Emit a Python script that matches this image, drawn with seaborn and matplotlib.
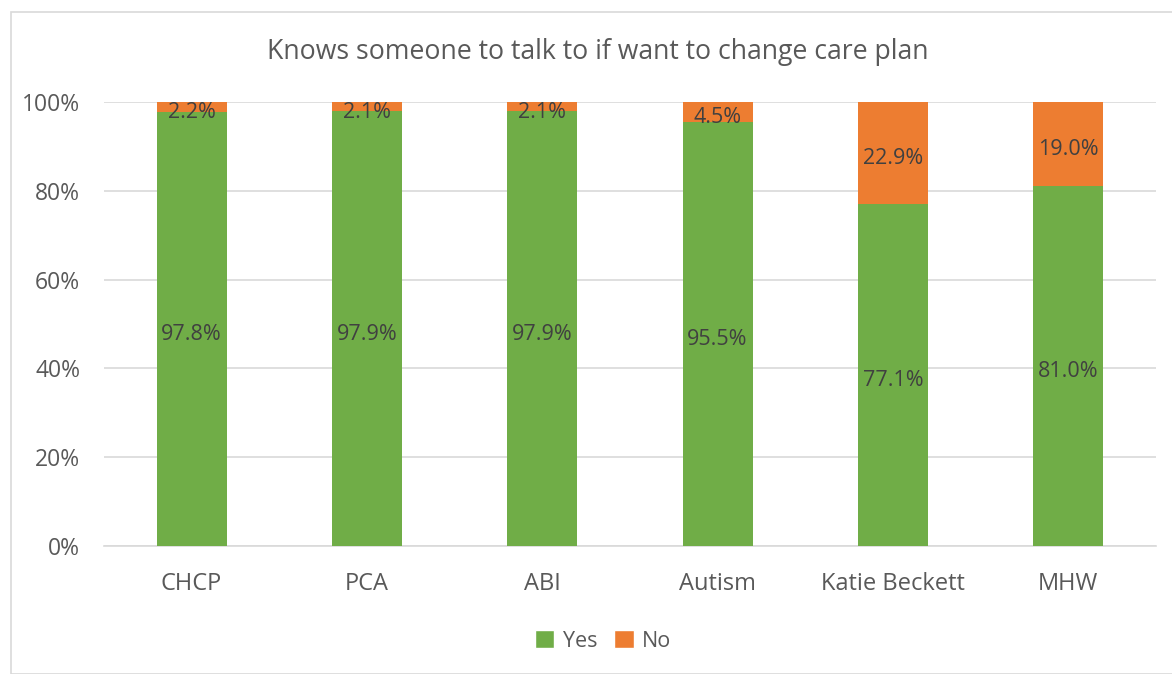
import matplotlib
matplotlib.use("Agg")
import matplotlib.pyplot as plt
from matplotlib.patches import Patch, Rectangle
import seaborn as sns
import pandas as pd

categories = ["CHCP", "PCA", "ABI", "Autism", "Katie Beckett", "MHW"]
yes_pct = [97.8, 97.9, 97.9, 95.5, 77.1, 81.0]
no_pct = [2.2, 2.1, 2.1, 4.5, 22.9, 19.0]
y_ticks = [0, 20, 40, 60, 80, 100]
title = "Knows someone to talk to if want to change care plan"

GREEN = "#70ad47"
ORANGE = "#ed7d31"
TEXT = "#595959"
LABEL = "#404040"
GRID = "#d9d9d9"

sns.set_theme(style="white")
plt.rcParams["font.family"] = ["Open Sans", "DejaVu Sans"]

df = pd.DataFrame({"category": categories, "Yes": yes_pct, "No": no_pct})

fig = plt.figure(figsize=(11.72, 6.74), dpi=100)
ax = fig.add_axes([0.0887, 0.1899, 0.8976, 0.6588])

# chart border
fig.patches.append(Rectangle((11 / 1172, 0), 1.2, 1 - 12 / 674, transform=fig.transFigure,
                             fill=False, edgecolor=GRID, linewidth=1.2, zorder=0))

sns.barplot(data=df, x="category", y="Yes", color=GREEN, width=0.4, ax=ax,
            saturation=1, linewidth=0, zorder=3)
sns.barplot(data=df, x="category", y="No", bottom=df["Yes"], color=ORANGE, width=0.4,
            ax=ax, saturation=1, linewidth=0, zorder=3)

for container in ax.containers:
    texts = ax.bar_label(container, labels=[f"{v:.1f}%" for v in container.datavalues],
                         label_type="center", color=LABEL, fontsize=15.5)
    for t in texts:
        t.xyann = (0, -4)

ax.set_ylim(0, 100)
ax.set_xlim(-0.5, len(categories) - 0.5)
ax.set_yticks(y_ticks)
ax.set_yticklabels([f"{t}%" for t in y_ticks])
ax.yaxis.grid(True, color=GRID, linewidth=1.2, zorder=0)
ax.set_axisbelow(True)
for s in ["top", "right", "left"]:
    ax.spines[s].set_visible(False)
ax.spines["bottom"].set_color(GRID)
ax.spines["bottom"].set_linewidth(1.2)
ax.tick_params(axis="both", length=0, colors=TEXT)
ax.tick_params(axis="x", pad=19, labelsize=17)
ax.tick_params(axis="y", pad=17, labelsize=16.5)
ax.set_xlabel("")
ax.set_ylabel("")

fig.text(598 / 1172, 1 - 52 / 674, title, ha="center", va="center", fontsize=19.2, color=TEXT)

handles = [Patch(facecolor=GREEN, label="Yes"), Patch(facecolor=ORANGE, label="No")]
fig.legend(handles=handles, loc="center", bbox_to_anchor=(603 / 1172, 1 - 641 / 674), ncol=2,
           frameon=False, fontsize=15.5, handlelength=0.9, handleheight=0.9,
           handletextpad=0.4, columnspacing=0.8, labelcolor=TEXT)

fig.savefig("out.png", dpi=100, facecolor="white")
